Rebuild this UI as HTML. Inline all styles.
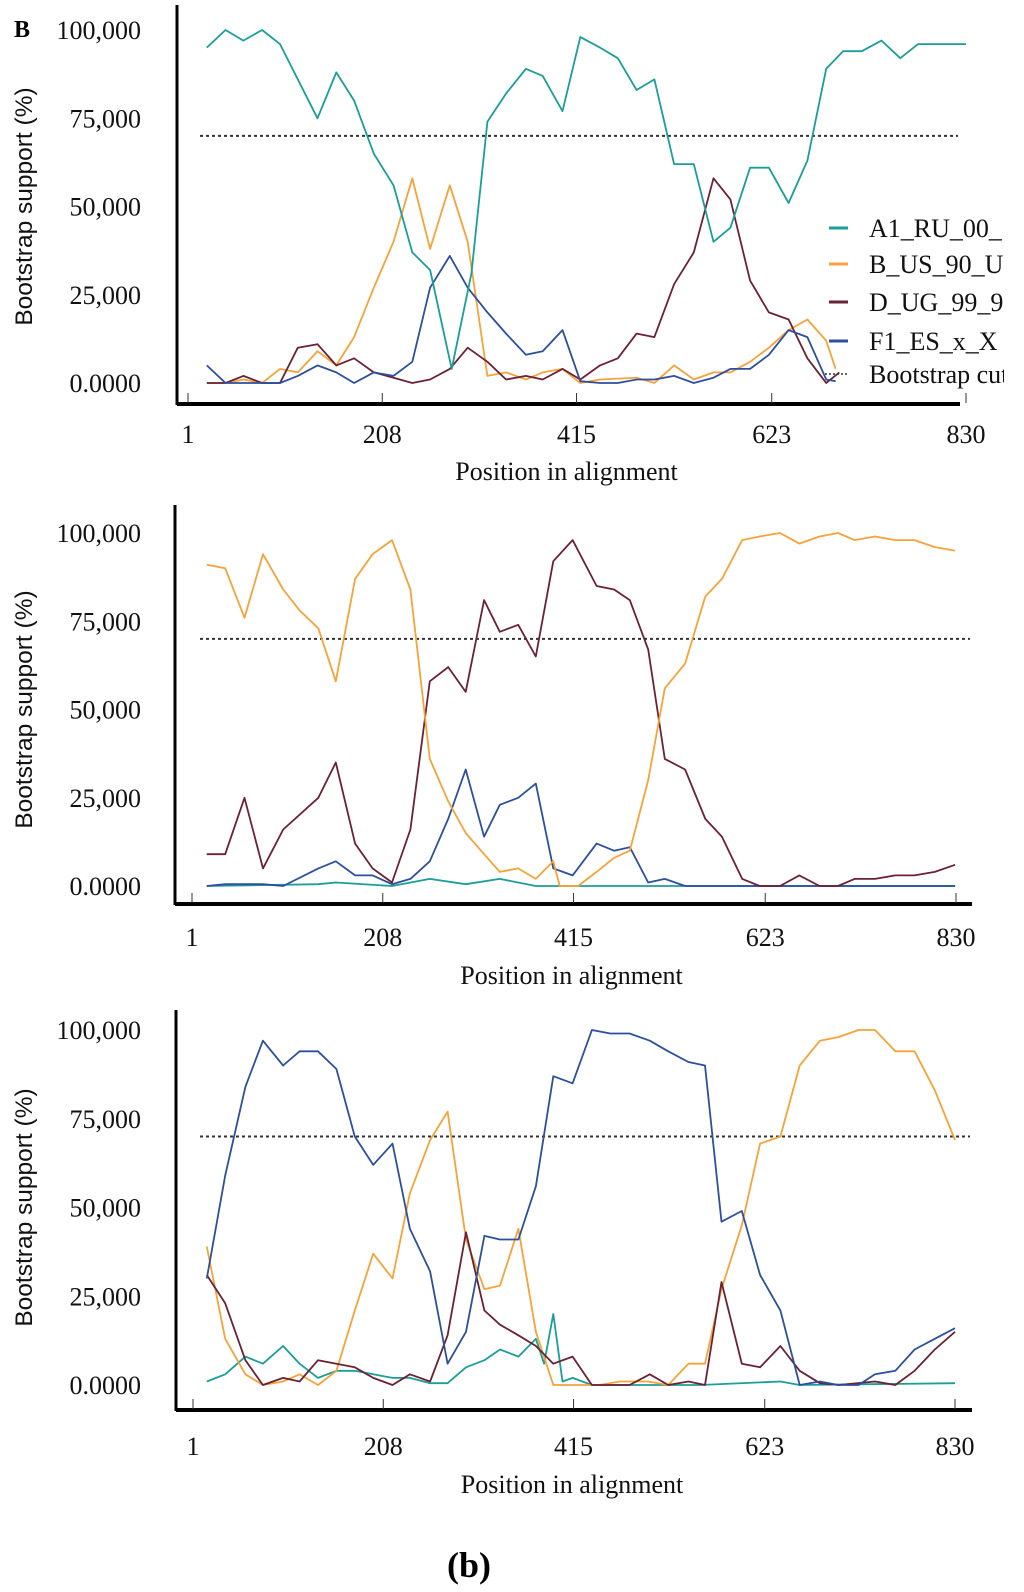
<!DOCTYPE html>
<html><head><meta charset="utf-8">
<style>
html,body{margin:0;padding:0;background:#fff;}
svg{display:block;}
.tk{font-family:"Liberation Serif",serif;font-size:26px;fill:#111;}
.yt{font-family:"Liberation Sans",sans-serif;font-size:24.5px;fill:#111;}
.lg{font-family:"Liberation Serif",serif;font-size:26px;fill:#111;}
</style></head>
<body>
<svg id="fig" width="1024" height="1592" viewBox="0 0 1024 1592" xmlns="http://www.w3.org/2000/svg">
<defs><clipPath id="clipR"><rect x="0" y="0" width="1004" height="1592"/></clipPath></defs>
<text x="14" y="37" font-family="Liberation Serif,serif" font-weight="bold" font-size="24">B</text>
<text x="447" y="1577" font-family="Liberation Serif,serif" font-weight="bold" font-size="36">(b)</text>
</svg>
<script>
// x tick labels and y tick labels
const xTicks = [1, 208, 415, 623, 830];
const yTicks = [0, 25, 50, 75, 100];
const yTickLabels = ["0.0000", "25,000", "50,000", "75,000", "100,000"];
const cutoff = 70;
const seriesNames = ["A1_RU_00_", "B_US_90_U", "D_UG_99_9", "F1_ES_x_X"];
const seriesColors = ["#1b9e98", "#f5a33a", "#6a2234", "#2d4f9e"];

// Panel 1 positions & values
const p1A1Pos = [21,41,60,80,99,139,159,178,199,220,240,259,282,303,320,340,361,379,400,419,440,459,479,498,519,540,561,579,600,620,641,661,681,699,719,740,760,779,800,830];
const p1A1Val = [95,100,97,100,96,75,88,80,65,56,37,32,4,31,74,82,89,87,77,98,95,92,83,86,62,62,40,44,61,61,51,63,89,94,94,97,92,96,96,96];
const p1BPos = [21,41,60,80,99,118,139,159,178,199,220,240,259,280,299,320,340,361,379,400,419,440,479,498,519,540,561,579,600,620,641,661,681,691];
const p1BVal = [0,0,1,0,4,3,9,5,13,27,40,58,38,56,40,2,3,1,3,4,0,1,1.5,0,5,1,3,3,6,10,15,18,12,4];
const p1DPos = [21,41,60,80,99,118,139,159,178,199,220,240,259,280,299,320,340,361,379,400,419,440,459,479,498,519,540,561,579,600,620,641,661,681,695];
const p1DVal = [0,0,2,0,0,10,11,5,7,3,1.5,0,1,4,10,6,1,2,1,4,1,5,7,14,13,28,37,58,52,29,20,18,7,0,3];
const p1FPos = [21,41,60,80,99,118,139,159,178,199,220,240,259,280,299,320,340,361,379,400,419,440,459,479,498,519,540,561,579,600,620,641,661,681,691];
const p1FVal = [5,0,0,0,0,2,5,3,0,3,2,6,27,36,27,20,14,8,9,15,0.5,0,0,1,1,2,0,1.5,4,4,8,15,13,1,0.5];

// Panel 2
const p2A1Pos = [17,138,157,218,259,298,335,374,829];
const p2A1Val = [0,0.5,1,0,2,0.5,2,0,0];
const p2BPos = [17,37,58,78,100,118,138,157,178,197,218,238,259,279,298,318,335,355,374,393,400,420,440,459,476,496,514,536,558,576,598,617,639,660,682,702,720,742,764,785,807,829];
const p2BVal = [91,90,76,94,84,78,73,58,87,94,98,84,36,24,15,9,4,5,2,7,0,0,4,8,10,30,56,63,82,87,98,99,100,97,99,100,98,99,98,98,96,95];
const p2DPos = [17,37,58,78,100,138,157,178,197,218,238,259,279,298,318,335,355,374,393,414,440,459,476,496,514,536,558,576,598,617,639,660,682,702,720,742,764,785,807,829];
const p2DVal = [9,9,25,5,16,25,35,12,5,1,16,58,62,55,81,72,74,65,92,98,85,84,81,67,36,33,19,14,2,0,0,3,0,0,2,2,3,3,4,6];
const p2FPos = [17,37,78,100,138,157,178,197,218,238,259,279,298,318,335,355,374,393,414,440,459,476,496,514,536,829];
const p2FVal = [0,0.5,0.5,0,5,7,3,3,0.5,2,7,19,33,14,23,25,29,5,3,12,10,11,1,2,0,0];

// Panel 3
const p3A1Pos = [16,36,58,77,99,117,137,157,177,197,218,237,259,278,298,318,335,355,374,383,393,403,414,435,553,640,661,830];
const p3A1Val = [1,3,8,6,11,6,2,4,4,3,2,2,0.5,0.5,5,7,10,8,13,6,20,1,2,0,0,1,0,0.5];
const p3BPos = [16,36,58,77,99,117,137,157,177,197,218,237,259,278,298,318,335,355,374,393,414,443,465,496,518,540,558,576,598,618,640,661,683,703,725,743,765,786,808,830];
const p3BVal = [39,13,3,0,1,3,0,4,21,37,30,54,69,77,41,27,28,44,15,0,0,0,1,1,0,6,6,27,45,68,70,90,97,98,100,100,94,94,83,69];
const p3DPos = [16,36,58,77,99,117,137,157,177,197,218,237,259,278,298,318,335,355,374,393,414,435,476,498,518,540,558,576,598,618,640,661,683,703,743,765,786,808,830];
const p3DVal = [31,23,7,0,2,1,7,6,5,2,0,3,1,14,43,21,17,14,11,6,8,0,0,3,0,1,0,29,6,5,11,4,0.5,0,1,0,4,10,15];
const p3FPos = [16,36,58,77,99,117,137,157,177,197,218,237,259,278,298,318,335,355,374,393,414,435,455,476,498,518,540,558,576,598,618,640,661,683,703,725,743,765,786,808,830];
const p3FVal = [30,59,84,97,90,94,94,89,70,62,68,44,32,6,15,42,41,41,56,87,85,100,99,99,97,94,91,90,46,49,31,21,0,1,0,0,3,4,10,13,16];

const panels = [
  {x0:188,x1:966,y0:383,y100:30,ax:177,ayTop:5,ayBot:405,hx1:960,labY:443,titleY:480,
   series:[[p1A1Pos,p1A1Val],[p1BPos,p1BVal],[p1DPos,p1DVal],[p1FPos,p1FVal]],order:[1,2,3,0]},
  {x0:192,x1:956,y0:886,y100:533,ax:175,ayTop:505,ayBot:905,hx1:972,labY:946,titleY:984,
   series:[[p2A1Pos,p2A1Val],[p2BPos,p2BVal],[p2DPos,p2DVal],[p2FPos,p2FVal]],order:[0,3,2,1]},
  {x0:193,x1:955,y0:1385,y100:1030,ax:176,ayTop:1010,ayBot:1411,hx1:972,labY:1455,titleY:1493,
   series:[[p3A1Pos,p3A1Val],[p3BPos,p3BVal],[p3DPos,p3DVal],[p3FPos,p3FVal]],order:[0,1,2,3]}
];
const NS = "http://www.w3.org/2000/svg";
const svg = document.getElementById('fig');
function mk(tag, attrs, parent){
  const e = document.createElementNS(NS, tag);
  for (const k in attrs) e.setAttribute(k, attrs[k]);
  (parent||svg).appendChild(e);
  return e;
}
panels.forEach((p, pi) => {
  const sx = v => p.x0 + (v - 1) * (p.x1 - p.x0) / 829;
  const sy = v => p.y0 - v * (p.y0 - p.y100) / 100;
  const g = mk('g', {});
  
  
  const ya = mk('line', {x1:p.ax, x2:p.ax, y1:p.ayTop, y2:p.ayBot, stroke:'#000','stroke-width':3}, g);
  
  
  const xa = mk('line', {x1:p.ax, x2:p.hx1, y1:p.ayBot-1, y2:p.ayBot-1, stroke:'#000','stroke-width':4}, g);
  
  
  xTicks.forEach(t => {
    const tx = sx(t);
    mk('line', {x1:tx, x2:tx, y1:p.ayBot-12, y2:p.ayBot-2, stroke:'#333','stroke-width':1}, g);
    const lab = mk('text', {x:tx, y:p.labY, 'text-anchor':'middle', class:'tk'}, g);
    lab.textContent = t;
    
    
  });
  yTicks.forEach((t, i) => {
    const lab = mk('text', {x:141, y:sy(t)+9, 'text-anchor':'end', class:'tk'}, g);
    lab.textContent = yTickLabels[i];
    
    
  });
  const yt = mk('text', {x:0, y:0, class:'yt', 'text-anchor':'middle', transform:'translate(32,'+((p.y0+p.y100)/2)+') rotate(-90)'}, g);
  yt.textContent = 'Bootstrap support (%)';
  
  
  const xt = mk('text', {x:(p.ax+p.hx1)/2-2, y:p.titleY, 'text-anchor':'middle', class:'tk'}, g);
  xt.textContent = 'Position in alignment';
  
  
  const cl = mk('line', {x1:200, x2:p.hx1-2, y1:sy(cutoff), y2:sy(cutoff), stroke:'#333','stroke-width':2,'stroke-dasharray':'3,3'}, g);
  
  
  p.order.forEach(si => {
    const [pos, val] = p.series[si];
    const pts = pos.map((x, i) => sx(x).toFixed(1) + ',' + sy(val[i]).toFixed(1)).join(' ');
    const pl = mk('polyline', {points:pts, fill:'none', stroke:seriesColors[si], 'stroke-width':1.8, 'stroke-linejoin':'round'}, g);
    
    
  });
});
const lg = mk('g', {'clip-path':'url(#clipR)'});


const legY = [228, 264, 302, 341];
seriesNames.forEach((n, i) => {
  mk('line', {x1:829, x2:848, y1:legY[i], y2:legY[i], stroke:seriesColors[i], 'stroke-width':3}, lg);
  const t = mk('text', {x:869, y:legY[i]+9, class:'lg'}, lg);
  t.textContent = n;
  
  
});
mk('line', {x1:825, x2:848, y1:374, y2:374, stroke:'#333','stroke-width':1.5,'stroke-dasharray':'2,2'}, lg);
const bt = mk('text', {x:869, y:383, class:'lg'}, lg);
bt.textContent = 'Bootstrap cutoff';


</script>
</body></html>
